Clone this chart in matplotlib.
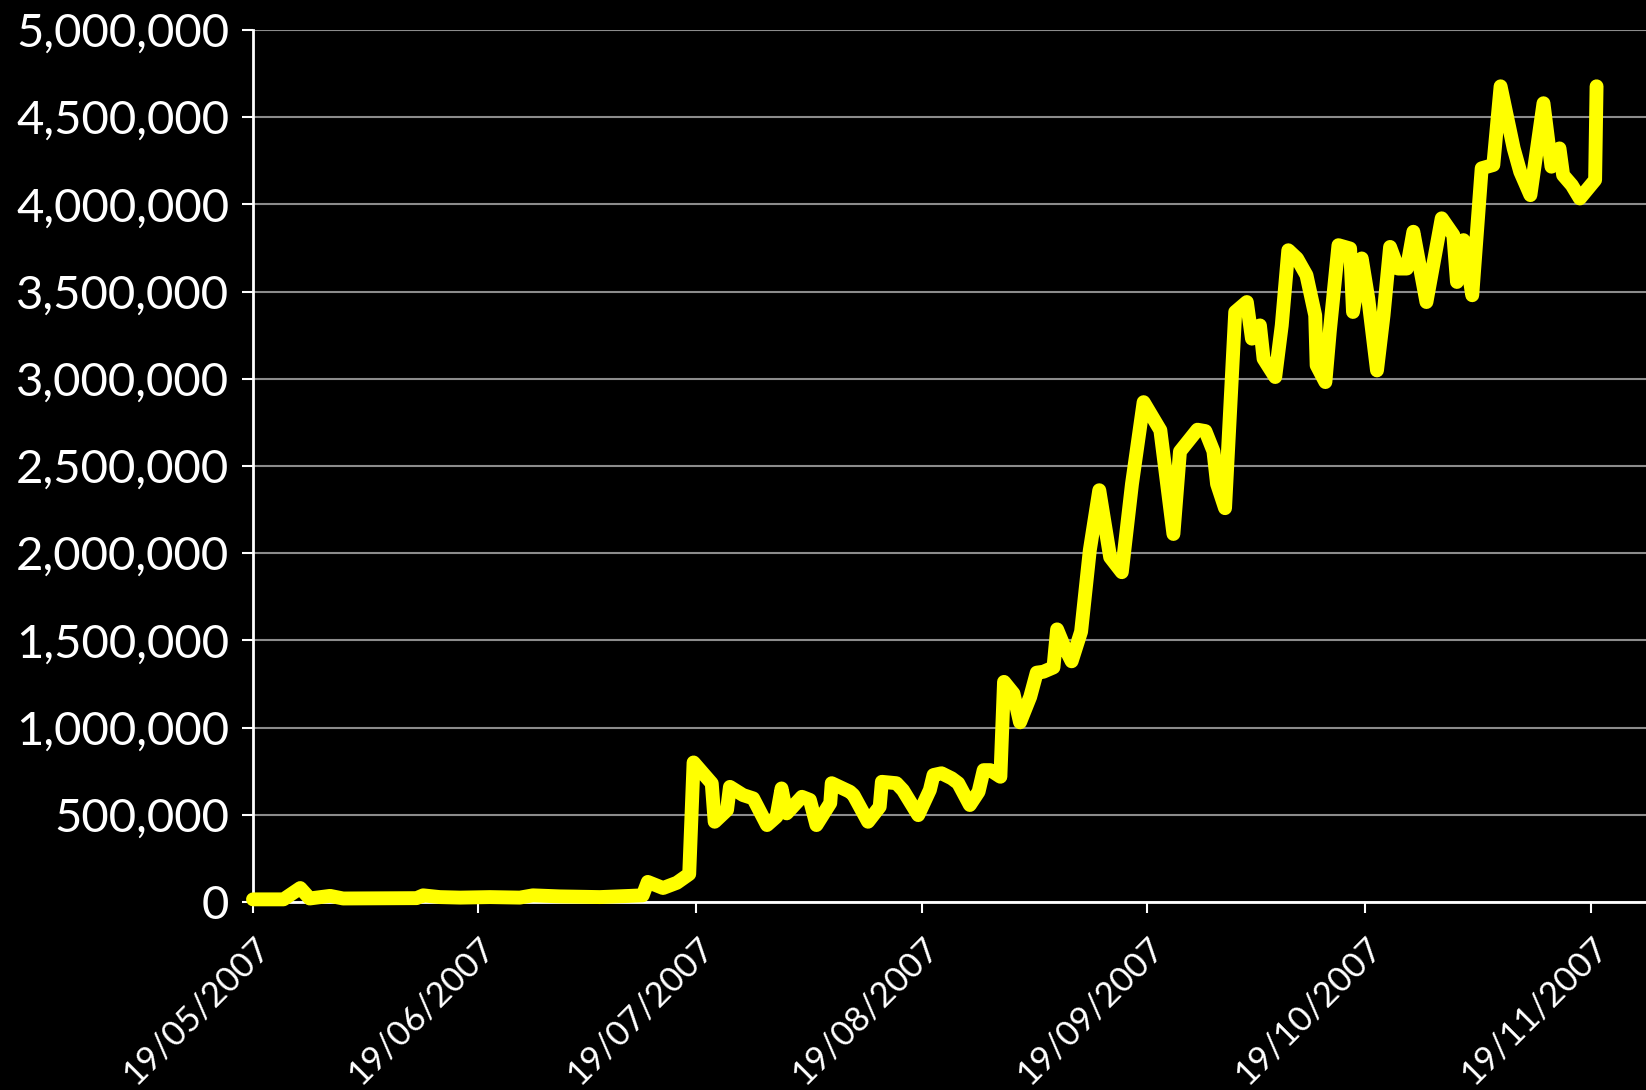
import matplotlib
matplotlib.use("Agg")
import matplotlib.pyplot as plt
import matplotlib.dates as mdates
import matplotlib.ticker as mticker
import numpy as np
import pandas as pd

# days since 19/05/2007 and the plotted values
start_date = "2007-05-19"
day_offsets = [
    0.0, 4.2, 6.5, 7.8, 10.6, 12.4, 22.5, 23.4, 25.7, 28.5, 32.6, 36.7, 38.5,
    42.2, 47.7, 51.9, 53.6, 54.3, 56.4, 58.3, 60.0, 60.6, 63.1, 63.5, 65.2,
    65.6, 67.4, 68.8, 70.7, 72.0, 72.7, 73.4, 75.5, 76.6, 77.5, 79.4, 79.6,
    82.1, 82.6, 84.6, 86.2, 86.5, 88.5, 89.4, 91.5, 93.1, 93.6, 94.7, 96.1,
    97.0, 98.6, 99.8, 100.5, 101.4, 102.8, 103.3, 104.6, 105.5, 106.9, 107.8,
    108.7, 110.1, 110.6, 111.5, 112.6, 113.9, 115.1, 116.4, 117.9, 119.5,
    120.9, 122.5, 124.8, 126.6, 127.5, 129.9, 131.0, 132.1, 132.6, 133.7,
    135.1, 136.7, 137.4, 138.5, 139.0, 140.6, 141.5, 142.4, 143.6, 144.9,
    146.1, 146.3, 147.5, 148.1, 149.3, 150.9, 151.3, 152.5, 153.4, 154.6,
    155.5, 156.4, 157.5, 158.7, 159.6, 161.4, 163.5, 165.1, 165.6, 166.5,
    167.7, 169.0, 170.6, 171.6, 173.4, 174.3, 175.7, 177.5, 178.6, 179.7,
    180.2, 181.4, 182.5, 184.6, 184.8,
]
values = [
    15000, 15000, 80000, 20000, 35000, 20000, 22000, 38000, 28000, 25000,
    28000, 25000, 38000, 32000, 28000, 35000, 38000, 115000, 80000, 110000,
    160000, 800000, 680000, 460000, 527000, 660000, 613000, 594000, 441000,
    489000, 651000, 508000, 603000, 585000, 441000, 567000, 681000, 632000,
    613000, 460000, 546000, 689000, 681000, 641000, 498000, 642000, 728000,
    738000, 709000, 681000, 556000, 632000, 756000, 756000, 718000, 1262000,
    1195000, 1030000, 1176000, 1315000, 1320000, 1345000, 1563000, 1472000,
    1380000, 1550000, 2017000, 2361000, 1977000, 1891000, 2397000, 2866000,
    2705000, 2110000, 2583000, 2708000, 2700000, 2585000, 2397000, 2258000,
    3383000, 3440000, 3230000, 3306000, 3115000, 3010000, 3306000, 3737000,
    3690000, 3594000, 3364000, 3077000, 2981000, 3268000, 3766000, 3747000,
    3383000, 3690000, 3460000, 3048000, 3364000, 3756000, 3632000, 3632000,
    3843000, 3440000, 3920000, 3824000, 3555000, 3795000, 3479000, 4207000,
    4226000, 4677000, 4321000, 4187000, 4053000, 4580000, 4216000, 4321000,
    4168000, 4110000, 4034000, 4140000, 4677000,
]

plt.rcParams['font.family'] = ['Lato', 'DejaVu Sans']

dates = pd.Timestamp(start_date) + pd.to_timedelta(day_offsets, unit="D")

fig = plt.figure(figsize=(16.46, 10.90), dpi=100, facecolor="black")
ax = fig.add_axes([0.1537, 0.1725, 0.8463, 0.8])
ax.set_facecolor("black")

ax.plot(dates, values, color="#ffff00", linewidth=10, solid_joinstyle="round",
        solid_capstyle="round", zorder=3, clip_on=False)

ax.set_ylim(0, 5000000)
ax.yaxis.set_major_locator(mticker.MultipleLocator(500000))
ax.yaxis.set_major_formatter(mticker.FuncFormatter(lambda v, p: f"{v:,.0f}"))
x0 = pd.Timestamp(start_date)
ax.set_xlim(x0, x0 + pd.Timedelta(days=191.6))
ax.xaxis.set_major_locator(mdates.MonthLocator(bymonthday=19))
ax.xaxis.set_major_formatter(mdates.DateFormatter("%d/%m/%Y"))

ax.grid(axis="y", color="#8c8c8c", linewidth=1.5)
ax.set_axisbelow(True)
for side in ("top", "right"):
    ax.spines[side].set_visible(False)
for side in ("left", "bottom"):
    ax.spines[side].set_color("white")
    ax.spines[side].set_linewidth(2)

ax.tick_params(axis="y", colors="white", labelsize=34, length=8, width=1.5, pad=9)
ax.tick_params(axis="x", colors="white", labelsize=25, length=8, width=1.5, pad=13)
for lbl in ax.get_xticklabels():
    lbl.set_rotation(45)
    lbl.set_ha("right")
    lbl.set_va("top")
    lbl.set_rotation_mode("anchor")

fig.savefig("out.png", dpi=100, facecolor="black")
